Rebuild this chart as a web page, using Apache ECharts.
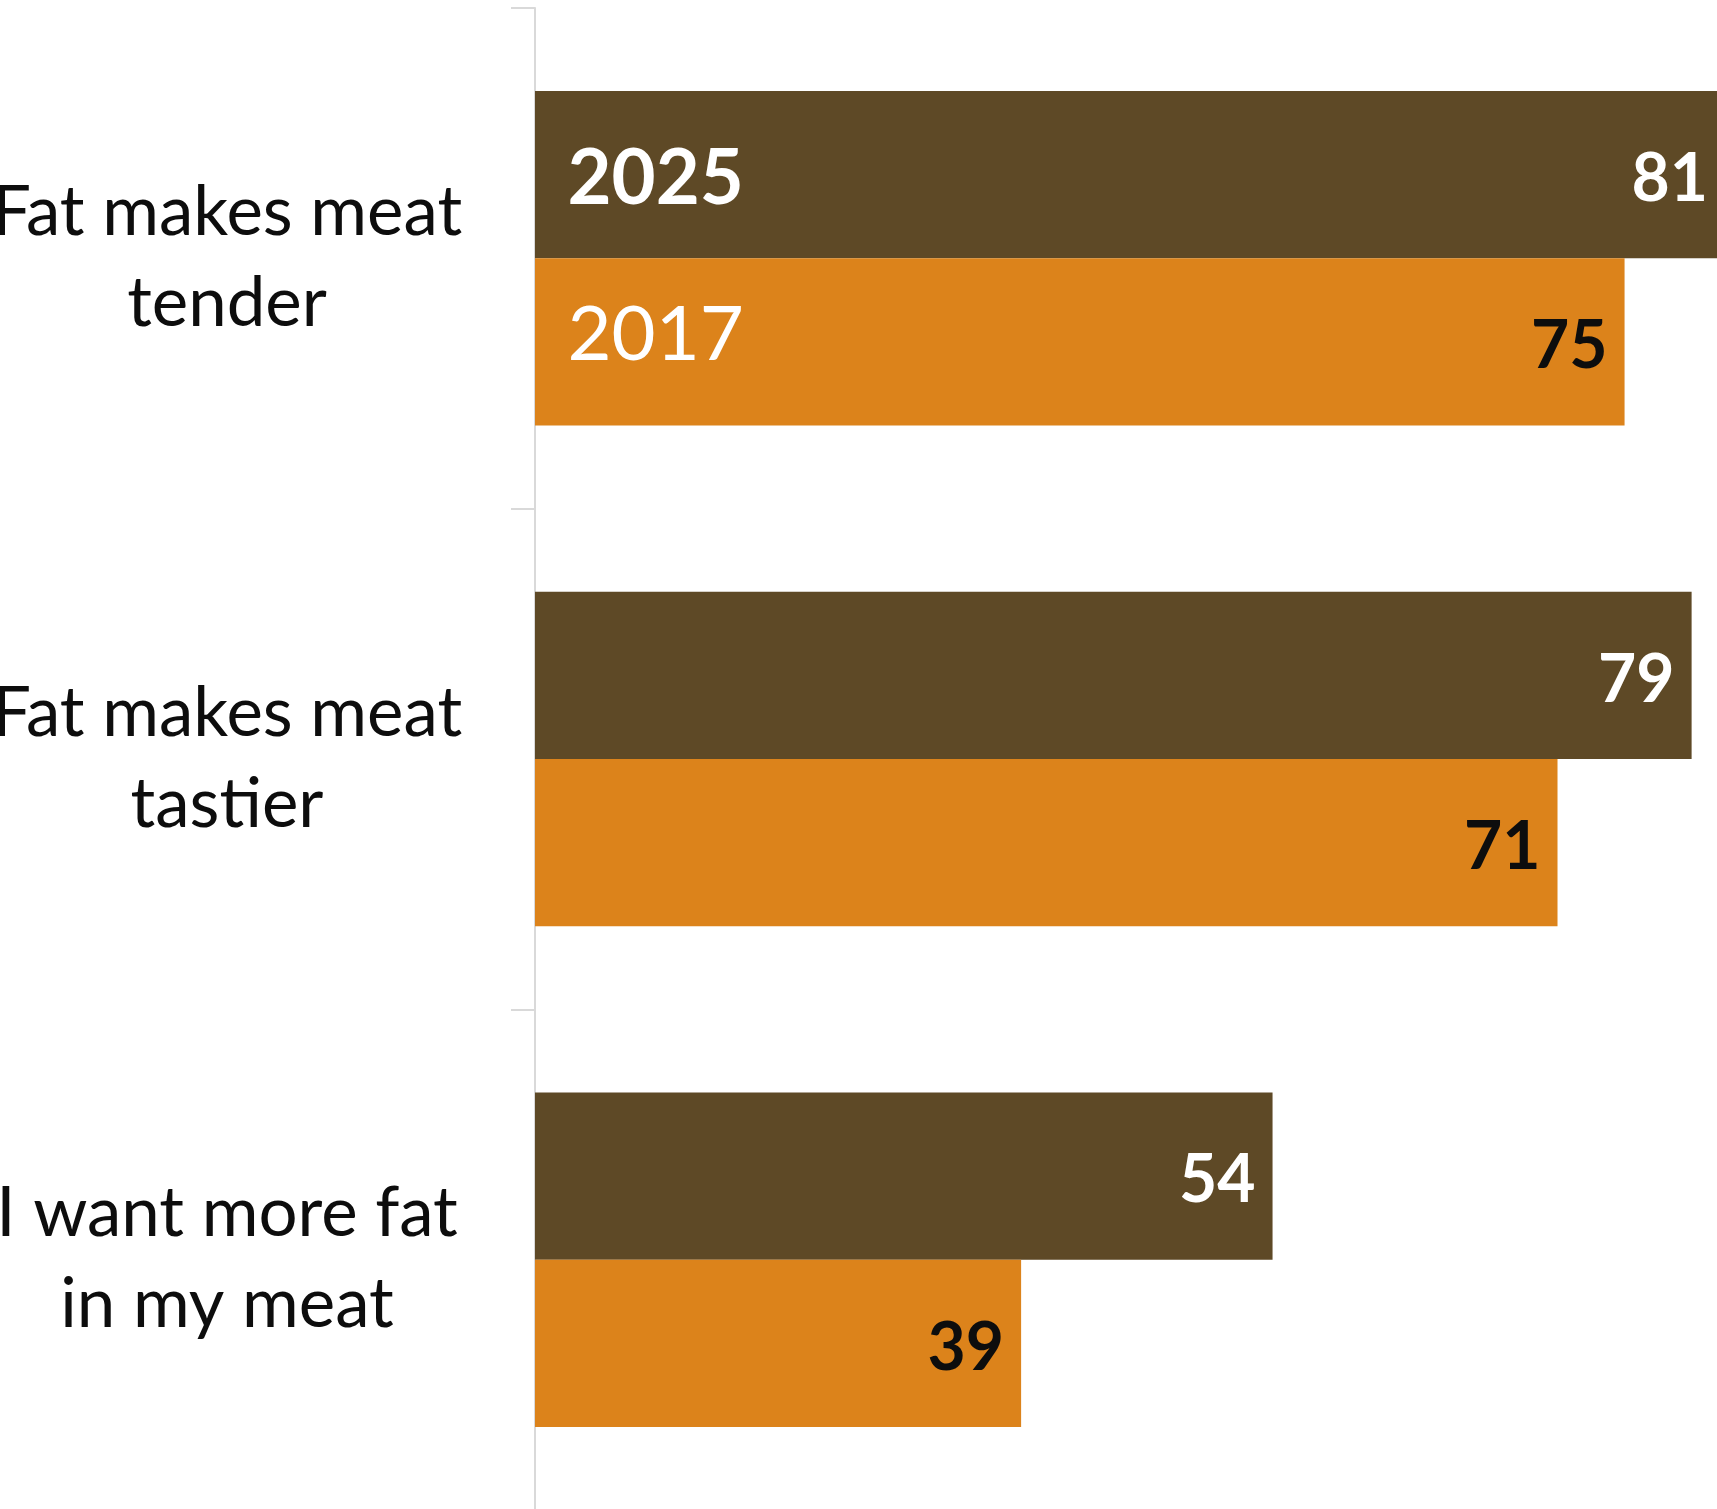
<!DOCTYPE html>
<html>
<head>
<meta charset="utf-8">
<script src="https://cdn.jsdelivr.net/npm/echarts@6/dist/echarts.min.js"></script>
<style>
html,body{margin:0;padding:0;background:#fff;overflow:hidden;}
#chart{width:1717px;height:1509px;}
</style>
</head>
<body>
<div id="chart"></div>
<script>
const categories = ['Fat makes meat\ntender', 'Fat makes meat\ntastier', 'I want more fat\nin my meat'];
const seriesNames = ['2025', '2017'];
const values2025 = [81, 79, 54];
const values2017 = [75, 71, 39];
const axisMin = 10;
const axisMax = 90;

const FONT = 'Lato';
const chart = echarts.init(document.getElementById('chart'));

function yearMarker(name, weight, dy) {
  return {
    symbol: 'rect',
    symbolSize: 1,
    itemStyle: { color: 'rgba(0,0,0,0)' },
    label: {
      show: true,
      position: 'right',
      distance: 32,
      offset: [0, dy],
      formatter: () => name,
      color: '#ffffff',
      fontFamily: FONT,
      fontWeight: weight,
      fontSize: 76
    },
    data: [{ coord: [axisMin, categories[0]] }]
  };
}

function valueLabel(color) {
  return {
    show: true,
    position: 'insideRight',
    distance: 17,
    offset: [0, 5],
    color: color,
    fontFamily: FONT,
    fontWeight: 'bold',
    fontSize: 66
  };
}

chart.setOption({
  animation: false,
  backgroundColor: '#ffffff',
  grid: { left: 535, top: 8, width: 1341, height: 1502, containLabel: false, outerBoundsMode: 'none' },
  xAxis: {
    type: 'value',
    min: axisMin,
    max: axisMax,
    show: false,
    splitLine: { show: false }
  },
  yAxis: {
    type: 'category',
    inverse: true,
    data: categories,
    axisLine: { show: true, lineStyle: { color: '#D9D9D9', width: 2 } },
    axisTick: { show: true, length: 24, lineStyle: { color: '#D9D9D9', width: 2 } },
    axisLabel: {
      margin: 308,
      align: 'center',
      fontFamily: FONT,
      fontSize: 69,
      lineHeight: 91,
      color: '#0D0D0D'
    }
  },
  series: [
    {
      name: seriesNames[0],
      type: 'bar',
      data: values2025,
      barGap: 0,
      barCategoryGap: '33.2%',
      itemStyle: { color: '#5E4926' },
      label: valueLabel('#ffffff'),
      markPoint: yearMarker(seriesNames[0], 'bold', 5)
    },
    {
      name: seriesNames[1],
      type: 'bar',
      data: values2017,
      barGap: 0,
      barCategoryGap: '33.2%',
      itemStyle: { color: '#DC831B' },
      label: valueLabel('#0D0D0D'),
      markPoint: yearMarker(seriesNames[1], 'normal', -6)
    }
  ]
});
</script>
</body>
</html>
